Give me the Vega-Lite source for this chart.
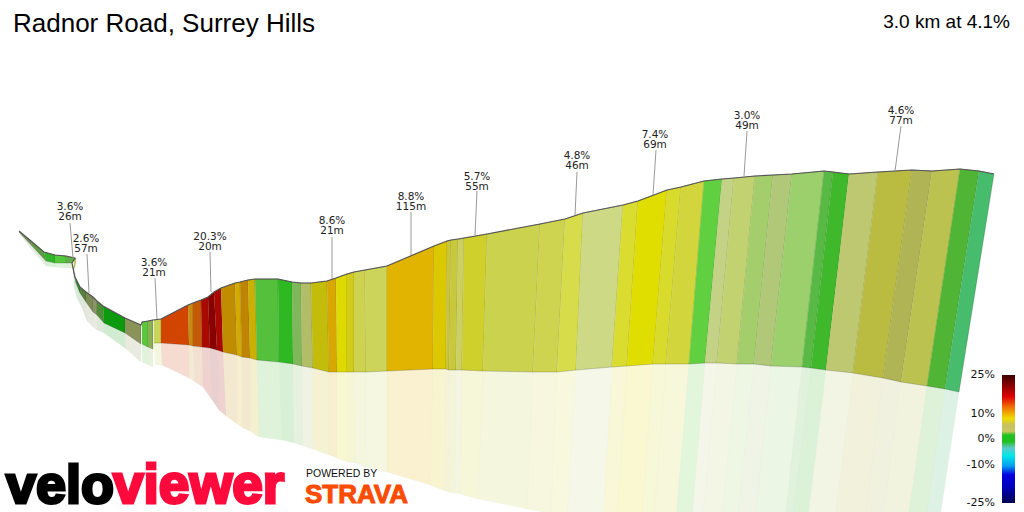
{
  "$schema": "https://vega.github.io/schema/vega-lite/v6.json",
  "autosize": {"type": "none"},
  "padding": 0,
  "width": 1024,
  "height": 512,
  "background": "#ffffff",
  "config": {"view": {"stroke": null}},
  "datasets": {
    "segments": [
      {"seg":"s01","o":[0,1,2,3],"wx":[19,31,32,19],"wy":[231,241,246,232],"rx":[19,32,32,19],"ry":[232,246,250,233]},
      {"seg":"s02","o":[0,1,2,3],"wx":[31,44,46,32],"wy":[241,252,261,246],"rx":[32,46,46,32],"ry":[246,261,266,250]},
      {"seg":"s03","o":[0,1,2,3],"wx":[44,55,55,46],"wy":[252,255,263,261],"rx":[46,55,55,46],"ry":[261,263,267,266]},
      {"seg":"s04","o":[0,1,2,3],"wx":[55,66,66,55],"wy":[255,256,263,263],"rx":[55,66,66,55],"ry":[263,263,268,267]},
      {"seg":"s05","o":[0,1,2,3],"wx":[66,75,72,66],"wy":[256,258,263,263],"rx":[66,72,72,66],"ry":[263,263,268,268]},
      {"seg":"s06","o":[0,1,2,3],"wx":[74,76,75,73],"wy":[261,258,266,270],"rx":[73,75,75,73],"ry":[270,266,270,272]},
      {"seg":"s07","o":[0,1,2,3],"wx":[72,75,76,73],"wy":[263,277,283,270],"rx":[73,76,77,74],"ry":[270,283,298,287]},
      {"seg":"s08","o":[0,1,2,3],"wx":[75,80,80,76],"wy":[277,287,293,283],"rx":[76,80,82,77],"ry":[283,293,308,298]},
      {"seg":"s09","o":[0,1,2,3],"wx":[80,86,86,80],"wy":[287,292,302,293],"rx":[80,86,87,82],"ry":[293,302,321,308]},
      {"seg":"s10","o":[0,1,2,3],"wx":[86,93,93,86],"wy":[292,297,312,302],"rx":[86,93,93,87],"ry":[302,312,327,321]},
      {"seg":"s11","o":[0,1,2,3],"wx":[93,97,97,93],"wy":[297,301,315,312],"rx":[93,97,97,93],"ry":[312,315,330,327]},
      {"seg":"s12","o":[0,1,2,3],"wx":[97,103,104,97],"wy":[301,306,323,315],"rx":[97,104,104,97],"ry":[315,323,333,330]},
      {"seg":"s13","o":[0,1,2,3],"wx":[103,125,125,104],"wy":[306,318,333,323],"rx":[104,125,126,104],"ry":[323,333,349,333]},
      {"seg":"s14","o":[0,1,2,3],"wx":[125,141,141,125],"wy":[318,325,344,333],"rx":[125,141,141,126],"ry":[333,344,362,349]},
      {"seg":"s15","o":[0,1,2,3],"wx":[142,148,148,142],"wy":[322,321,347,344],"rx":[142,148,148,142],"ry":[344,347,365,362]},
      {"seg":"s16","o":[0,1,2,3],"wx":[148,153,153,148],"wy":[321,320,349,347],"rx":[148,153,153,148],"ry":[347,349,367,365]},
      {"seg":"s17","o":[0,1,2,3],"wx":[154,161,161,154],"wy":[320,319,343,343],"rx":[154,161,162,155],"ry":[343,343,365,365]},
      {"seg":"s18","o":[0,1,2,3],"wx":[161,188,189,161],"wy":[319,305,345,343],"rx":[161,189,189,162],"ry":[343,345,378,365]},
      {"seg":"s19","o":[0,1,2,3],"wx":[188,193,193,189],"wy":[305,303,346,345],"rx":[189,193,195,189],"ry":[345,346,382,378]},
      {"seg":"s20","o":[0,1,2,3],"wx":[193,201,202,193],"wy":[303,300,347,346],"rx":[193,202,203,195],"ry":[346,347,387,382]},
      {"seg":"s21","o":[0,1,2,3],"wx":[201,208,210,202],"wy":[300,297,348,347],"rx":[202,210,212,203],"ry":[347,348,400,387]},
      {"seg":"s22","o":[0,1,2,3],"wx":[208,214,217,210],"wy":[297,292,350,348],"rx":[210,217,219,212],"ry":[348,350,410,400]},
      {"seg":"s23","o":[0,1,2,3],"wx":[214,221,223,217],"wy":[292,288,352,350],"rx":[217,223,226,219],"ry":[350,352,416,410]},
      {"seg":"s24","o":[0,1,2,3],"wx":[221,235,237,223],"wy":[288,283,355,352],"rx":[223,237,237,226],"ry":[352,355,424,416]},
      {"seg":"s25","o":[0,1,2,3],"wx":[235,240,242,237],"wy":[283,282,357,355],"rx":[237,242,243,237],"ry":[355,357,428,424]},
      {"seg":"s26","o":[0,1,2,3],"wx":[240,248,250,242],"wy":[282,280,358,357],"rx":[242,250,250,243],"ry":[357,358,431,428]},
      {"seg":"s27","o":[0,1,2,3],"wx":[248,255,257,250],"wy":[280,279,360,358],"rx":[250,257,259,250],"ry":[358,360,437,431]},
      {"seg":"s28","o":[0,1,2,3],"wx":[255,278,279,257],"wy":[279,279,362,360],"rx":[257,279,282,259],"ry":[360,362,440,437]},
      {"seg":"s29","o":[0,1,2,3],"wx":[278,292,293,279],"wy":[279,282,364,362],"rx":[279,293,294,282],"ry":[362,364,443,440]},
      {"seg":"s30","o":[0,1,2,3],"wx":[292,301,302,293],"wy":[282,283,366,364],"rx":[293,302,303,294],"ry":[364,366,446,443]},
      {"seg":"s31","o":[0,1,2,3],"wx":[301,311,313,302],"wy":[283,283,368,366],"rx":[302,313,313,303],"ry":[366,368,449,446]},
      {"seg":"s32","o":[0,1,2,3],"wx":[311,327,329,313],"wy":[283,281,372,368],"rx":[313,329,329,313],"ry":[368,372,455,449]},
      {"seg":"s33","o":[0,1,2,3],"wx":[327,336,337,329],"wy":[281,278,372,372],"rx":[329,337,337,329],"ry":[372,372,458,455]},
      {"seg":"s34","o":[0,1,2,3],"wx":[336,347,347,337],"wy":[278,274,372,372],"rx":[337,347,347,337],"ry":[372,372,462,458]},
      {"seg":"s35","o":[0,1,2,3],"wx":[347,354,354,347],"wy":[274,272,372,372],"rx":[347,354,355,347],"ry":[372,372,463,462]},
      {"seg":"s36","o":[0,1,2,3],"wx":[354,365,366,354],"wy":[272,270,372,372],"rx":[354,366,365,355],"ry":[372,372,467,463]},
      {"seg":"s37","o":[0,1,2,3],"wx":[365,387,387,366],"wy":[270,266,371,372],"rx":[366,387,387,365],"ry":[372,371,472,467]},
      {"seg":"s38","o":[0,1,2,3],"wx":[387,434,433,387],"wy":[266,246,369,371],"rx":[387,433,430,387],"ry":[371,369,485,472]},
      {"seg":"s39","o":[0,1,2,3],"wx":[434,447,446,433],"wy":[246,241,369,369],"rx":[433,446,445,430],"ry":[369,369,491,485]},
      {"seg":"s40","o":[0,1,2,3],"wx":[447,451,449,446],"wy":[241,240,370,369],"rx":[446,449,448,445],"ry":[369,370,492,491]},
      {"seg":"s41","o":[0,1,2,3],"wx":[451,458,456,449],"wy":[240,239,370,370],"rx":[449,456,455,448],"ry":[370,370,493,492]},
      {"seg":"s42","o":[0,1,2,3],"wx":[458,464,462,456],"wy":[239,238,370,370],"rx":[456,462,460,455],"ry":[370,370,494,493]},
      {"seg":"s43","o":[0,1,2,3],"wx":[464,487,483,462],"wy":[238,234,371,370],"rx":[462,483,478,460],"ry":[370,371,499,494]},
      {"seg":"s44","o":[0,1,2,3],"wx":[487,540,533,483],"wy":[234,224,372,371],"rx":[483,533,527,478],"ry":[371,372,509,499]},
      {"seg":"s45","o":[0,1,2,3],"wx":[540,565,557,533],"wy":[224,219,372,372],"rx":[533,557,551,527],"ry":[372,372,514,509]},
      {"seg":"s46","o":[0,1,2,3],"wx":[565,583,576,557],"wy":[219,213,370,372],"rx":[557,576,567,551],"ry":[372,370,518,514]},
      {"seg":"s47","o":[0,1,2,3],"wx":[583,623,612,576],"wy":[213,205,367,370],"rx":[576,612,603,567],"ry":[370,367,518,518]},
      {"seg":"s48","o":[0,1,2,3],"wx":[623,638,627,612],"wy":[205,201,366,367],"rx":[612,627,617,603],"ry":[367,366,518,518]},
      {"seg":"s49","o":[0,1,2,3],"wx":[638,667,653,627],"wy":[201,190,364,366],"rx":[627,653,642,617],"ry":[366,364,518,518]},
      {"seg":"s50","o":[0,1,2,3],"wx":[667,681,666,653],"wy":[190,187,364,364],"rx":[653,666,654,642],"ry":[364,364,518,518]},
      {"seg":"s51","o":[0,1,2,3],"wx":[681,704,689,666],"wy":[187,181,364,364],"rx":[666,689,676,654],"ry":[364,364,518,518]},
      {"seg":"s52","o":[0,1,2,3],"wx":[704,722,705,689],"wy":[181,179,363,364],"rx":[689,705,692,676],"ry":[364,363,518,518]},
      {"seg":"s53","o":[0,1,2,3],"wx":[722,734,717,705],"wy":[179,178,363,363],"rx":[705,717,703,692],"ry":[363,363,518,518]},
      {"seg":"s54","o":[0,1,2,3],"wx":[734,755,737,717],"wy":[178,176,364,363],"rx":[717,737,722,703],"ry":[363,364,518,518]},
      {"seg":"s55","o":[0,1,2,3],"wx":[755,773,754,737],"wy":[176,175,364,364],"rx":[737,754,738,722],"ry":[364,364,518,518]},
      {"seg":"s56","o":[0,1,2,3],"wx":[773,792,771,754],"wy":[175,174,366,364],"rx":[754,771,755,738],"ry":[364,366,518,518]},
      {"seg":"s57","o":[0,1,2,3],"wx":[792,824,802,771],"wy":[174,171,367,366],"rx":[771,802,785,755],"ry":[366,367,518,518]},
      {"seg":"s58","o":[0,1,2,3],"wx":[824,833,811,802],"wy":[171,172,368,367],"rx":[802,811,793,785],"ry":[367,368,518,518]},
      {"seg":"s59","o":[0,1,2,3],"wx":[833,849,826,811],"wy":[172,174,370,368],"rx":[811,826,808,793],"ry":[368,370,518,518]},
      {"seg":"s60","o":[0,1,2,3],"wx":[849,878,853,826],"wy":[174,172,373,370],"rx":[826,853,835,808],"ry":[370,373,518,518]},
      {"seg":"s61","o":[0,1,2,3],"wx":[878,912,883,853],"wy":[172,170,378,373],"rx":[853,883,865,835],"ry":[373,378,518,518]},
      {"seg":"s62","o":[0,1,2,3],"wx":[912,932,901,883],"wy":[170,171,382,378],"rx":[883,901,883,865],"ry":[378,382,518,518]},
      {"seg":"s63","o":[0,1,2,3],"wx":[932,960,927,901],"wy":[171,169,386,382],"rx":[901,927,908,883],"ry":[382,386,518,518]},
      {"seg":"s64","o":[0,1,2,3],"wx":[960,979,945,927],"wy":[169,171,389,386],"rx":[927,945,926,908],"ry":[386,389,518,518]},
      {"seg":"s65","o":[0,1,2,3],"wx":[979,994,959,945],"wy":[171,174,392,389],"rx":[945,959,940,926],"ry":[389,392,518,518]}
    ],
    "profile": [
      {"i":0,"x":19,"y":231},{"i":1,"x":31,"y":241},{"i":2,"x":44,"y":252},{"i":3,"x":55,"y":255},{"i":4,"x":66,"y":256},{"i":5,"x":75,"y":258},
      {"i":6,"x":72,"y":263},{"i":7,"x":75,"y":277},{"i":8,"x":80,"y":287},{"i":9,"x":86,"y":292},{"i":10,"x":93,"y":297},{"i":11,"x":97,"y":301},
      {"i":12,"x":103,"y":306},{"i":13,"x":125,"y":318},{"i":14,"x":141,"y":325},{"i":15,"x":142,"y":322},{"i":16,"x":148,"y":321},{"i":17,"x":153,"y":320},
      {"i":18,"x":161,"y":319},{"i":19,"x":188,"y":305},{"i":20,"x":193,"y":303},{"i":21,"x":201,"y":300},{"i":22,"x":208,"y":297},{"i":23,"x":214,"y":292},
      {"i":24,"x":221,"y":288},{"i":25,"x":235,"y":283},{"i":26,"x":240,"y":282},{"i":27,"x":248,"y":280},{"i":28,"x":255,"y":279},{"i":29,"x":278,"y":279},
      {"i":30,"x":292,"y":282},{"i":31,"x":301,"y":283},{"i":32,"x":311,"y":283},{"i":33,"x":327,"y":281},{"i":34,"x":336,"y":278},{"i":35,"x":347,"y":274},
      {"i":36,"x":354,"y":272},{"i":37,"x":365,"y":270},{"i":38,"x":387,"y":266},{"i":39,"x":434,"y":246},{"i":40,"x":447,"y":241},{"i":41,"x":451,"y":240},
      {"i":42,"x":458,"y":239},{"i":43,"x":464,"y":238},{"i":44,"x":487,"y":234},{"i":45,"x":540,"y":224},{"i":46,"x":565,"y":219},{"i":47,"x":583,"y":213},
      {"i":48,"x":623,"y":205},{"i":49,"x":638,"y":201},{"i":50,"x":667,"y":190},{"i":51,"x":681,"y":187},{"i":52,"x":704,"y":181},{"i":53,"x":722,"y":179},
      {"i":54,"x":734,"y":178},{"i":55,"x":755,"y":176},{"i":56,"x":773,"y":175},{"i":57,"x":792,"y":174},{"i":58,"x":824,"y":171},{"i":59,"x":833,"y":172},
      {"i":60,"x":849,"y":174},{"i":61,"x":878,"y":172},{"i":62,"x":912,"y":170},{"i":63,"x":932,"y":171},{"i":64,"x":960,"y":169},{"i":65,"x":979,"y":171},{"i":66,"x":994,"y":174}
    ],
    "climbs": [
      {"pct":"3.6%","len":"26m","x":70,"py":207,"ly":217,"ax":70,"ay":223,"bx":73,"by":258},
      {"pct":"2.6%","len":"57m","x":86,"py":239,"ly":249,"ax":87,"ay":254,"bx":89,"by":293},
      {"pct":"3.6%","len":"21m","x":154,"py":263,"ly":273,"ax":155,"ay":278,"bx":157,"by":319},
      {"pct":"20.3%","len":"20m","x":210,"py":237,"ly":247,"ax":210,"ay":252,"bx":211,"by":292},
      {"pct":"8.6%","len":"21m","x":332,"py":221,"ly":231,"ax":332,"ay":237,"bx":332,"by":279},
      {"pct":"8.8%","len":"115m","x":411,"py":197,"ly":207,"ax":411,"ay":212,"bx":411,"by":255},
      {"pct":"5.7%","len":"55m","x":477,"py":177,"ly":187,"ax":477,"ay":191,"bx":475,"by":235},
      {"pct":"4.8%","len":"46m","x":577,"py":156,"ly":166,"ax":577,"ay":172,"bx":575,"by":215},
      {"pct":"7.4%","len":"69m","x":655,"py":135,"ly":145,"ax":656,"ay":150,"bx":653,"by":195},
      {"pct":"3.0%","len":"49m","x":747,"py":116,"ly":126,"ax":747,"ay":131,"bx":744,"by":176},
      {"pct":"4.6%","len":"77m","x":901,"py":111,"ly":121,"ax":901,"ay":126,"bx":895,"by":171}
    ]
  },
  "layer": [
    {
      "data": {"name": "segments"},
      "transform": [{"flatten": ["o", "wx", "wy", "rx", "ry"]}],
      "mark": {"type": "line", "filled": true, "opacity": 0.18, "clip": true, "stroke": "#000000", "strokeOpacity": 0.1, "strokeWidth": 0.6},
      "encoding": {
        "x": {"field": "rx", "type": "quantitative", "scale": {"domain": [0, 1024], "nice": false}, "axis": null},
        "y": {"field": "ry", "type": "quantitative", "scale": {"domain": [512, 0], "nice": false}, "axis": null},
        "order": {"field": "o"},
        "color": {
          "field": "seg",
          "type": "nominal",
          "legend": null,
          "scale": {"range": ["#6F8F55","#5F9A45","#2FB52A","#55C83C","#5FB048","#C8CC55","#3A9030","#2F8C2A","#56803C","#7D8A55","#8A9468","#4F8C38","#0E9A0E","#8A9458","#5CC63C","#8AB050","#C8D45A","#D24500","#C88A10","#C45A08","#A80A00","#8A0000","#A80800","#C08C00","#D2AA00","#BF8400","#CCB000","#54C03C","#2EB822","#7FB85A","#B2BD68","#C4BC0A","#D8A800","#DEDA00","#D2CC1C","#CDD34E","#CDD45A","#E0B400","#DCC800","#C9C53A","#C8C83C","#CCD060","#CFD02C","#CBD24E","#CFD450","#D6DC4A","#CDD984","#DADC30","#E0DE00","#D8DA2C","#D2D63C","#60CF40","#C3D284","#C3D270","#A4CE6C","#B0C878","#9CD06C","#58B944","#3FB82C","#BDC870","#BABC42","#B0B454","#BCC250","#50B434","#46BC6C"]}
        }
      }
    },
    {
      "data": {"name": "segments"},
      "transform": [{"flatten": ["o", "wx", "wy", "rx", "ry"]}],
      "mark": {"type": "line", "filled": true, "stroke": "#000000", "strokeOpacity": 0.25, "strokeWidth": 0.7},
      "encoding": {
        "x": {"field": "wx", "type": "quantitative"},
        "y": {"field": "wy", "type": "quantitative"},
        "order": {"field": "o"},
        "color": {"field": "seg", "type": "nominal", "legend": null}
      }
    },
    {
      "data": {"name": "profile"},
      "mark": {"type": "line", "color": "#555555", "strokeWidth": 1.1},
      "encoding": {
        "x": {"field": "x", "type": "quantitative"},
        "y": {"field": "y", "type": "quantitative"},
        "order": {"field": "i"}
      }
    },
    {
      "data": {"name": "climbs"},
      "mark": {"type": "rule", "color": "#999999", "strokeWidth": 1},
      "encoding": {
        "x": {"field": "ax", "type": "quantitative"},
        "y": {"field": "ay", "type": "quantitative"},
        "x2": {"field": "bx"},
        "y2": {"field": "by"}
      }
    },
    {
      "data": {"name": "climbs"},
      "mark": {"type": "text", "font": "DejaVu Sans", "fontSize": 10.5, "color": "#222222"},
      "encoding": {
        "x": {"field": "x", "type": "quantitative"},
        "y": {"field": "py", "type": "quantitative"},
        "text": {"field": "pct"}
      }
    },
    {
      "data": {"name": "climbs"},
      "mark": {"type": "text", "font": "DejaVu Sans", "fontSize": 10.5, "color": "#222222"},
      "encoding": {
        "x": {"field": "x", "type": "quantitative"},
        "y": {"field": "ly", "type": "quantitative"},
        "text": {"field": "len"}
      }
    },
    {
      "data": {"values": [{"t": "Radnor Road, Surrey Hills", "x": 13, "y": 32}]},
      "mark": {"type": "text", "font": "Liberation Sans", "fontSize": 26, "align": "left", "baseline": "alphabetic", "color": "#000000"},
      "encoding": {
        "x": {"field": "x", "type": "quantitative"},
        "y": {"field": "y", "type": "quantitative"},
        "text": {"field": "t"}
      }
    },
    {
      "data": {"values": [{"t": "3.0 km at 4.1%", "x": 1010, "y": 28}]},
      "mark": {"type": "text", "font": "Liberation Sans", "fontSize": 19, "align": "right", "baseline": "alphabetic", "color": "#000000"},
      "encoding": {
        "x": {"field": "x", "type": "quantitative"},
        "y": {"field": "y", "type": "quantitative"},
        "text": {"field": "t"}
      }
    },
    {
      "data": {"values": [{"x": 1002, "x2": 1015, "y": 375, "y2": 503}]},
      "mark": {
        "type": "rect",
        "color": {
          "gradient": "linear", "x1": 0, "y1": 0, "x2": 0, "y2": 1,
          "stops": [
            {"offset": 0, "color": "#3a0000"},
            {"offset": 0.17, "color": "#e00000"},
            {"offset": 0.25, "color": "#f07000"},
            {"offset": 0.34, "color": "#eedd00"},
            {"offset": 0.39, "color": "#c8c060"},
            {"offset": 0.44, "color": "#c8c860"},
            {"offset": 0.47, "color": "#20c020"},
            {"offset": 0.52, "color": "#20c020"},
            {"offset": 0.57, "color": "#60c8c8"},
            {"offset": 0.63, "color": "#00e8e8"},
            {"offset": 0.71, "color": "#00a0f0"},
            {"offset": 0.78, "color": "#0000e0"},
            {"offset": 0.87, "color": "#0000c0"},
            {"offset": 1, "color": "#000050"}
          ]
        }
      },
      "encoding": {
        "x": {"field": "x", "type": "quantitative"},
        "x2": {"field": "x2"},
        "y": {"field": "y", "type": "quantitative"},
        "y2": {"field": "y2"}
      }
    },
    {
      "data": {"values": [
        {"t": "25%", "x": 995, "y": 375},
        {"t": "10%", "x": 995, "y": 414},
        {"t": "0%", "x": 995, "y": 439},
        {"t": "-10%", "x": 995, "y": 465},
        {"t": "-25%", "x": 995, "y": 503}
      ]},
      "mark": {"type": "text", "font": "DejaVu Sans", "fontSize": 11, "align": "right", "color": "#111111"},
      "encoding": {
        "x": {"field": "x", "type": "quantitative"},
        "y": {"field": "y", "type": "quantitative"},
        "text": {"field": "t"}
      }
    },
    {
      "data": {"values": [{"t": "velo", "x": 6, "y": 503}]},
      "mark": {"type": "text", "font": "Liberation Sans", "fontWeight": "bold", "fontSize": 54, "align": "left", "baseline": "alphabetic", "color": "#000000", "stroke": "#000000", "strokeWidth": 3},
      "encoding": {
        "x": {"field": "x", "type": "quantitative"},
        "y": {"field": "y", "type": "quantitative"},
        "text": {"field": "t"}
      }
    },
    {
      "data": {"values": [{"t": "viewer", "x": 113, "y": 503}]},
      "mark": {"type": "text", "font": "Liberation Sans", "fontWeight": "bold", "fontSize": 55, "align": "left", "baseline": "alphabetic", "color": "#FF0A3C", "stroke": "#FF0A3C", "strokeWidth": 3},
      "encoding": {
        "x": {"field": "x", "type": "quantitative"},
        "y": {"field": "y", "type": "quantitative"},
        "text": {"field": "t"}
      }
    },
    {
      "data": {"values": [{"t": "POWERED BY", "x": 306, "y": 477}]},
      "mark": {"type": "text", "font": "Liberation Sans", "fontSize": 10.5, "align": "left", "baseline": "alphabetic", "color": "#111111"},
      "encoding": {
        "x": {"field": "x", "type": "quantitative"},
        "y": {"field": "y", "type": "quantitative"},
        "text": {"field": "t"}
      }
    },
    {
      "data": {"values": [{"t": "STRAVA", "x": 305, "y": 503}]},
      "mark": {"type": "text", "font": "Liberation Sans", "fontWeight": "bold", "fontSize": 26, "align": "left", "baseline": "alphabetic", "color": "#FC4C02", "stroke": "#FC4C02", "strokeWidth": 1},
      "encoding": {
        "x": {"field": "x", "type": "quantitative"},
        "y": {"field": "y", "type": "quantitative"},
        "text": {"field": "t"}
      }
    }
  ]
}
